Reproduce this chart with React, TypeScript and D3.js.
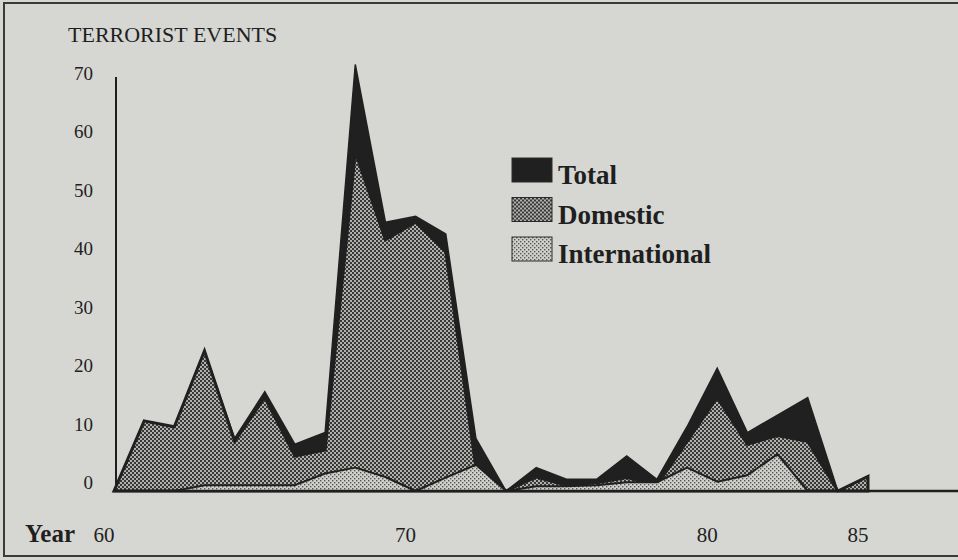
import * as d3 from 'd3';
import React from 'react';

const W = 958;
const H = 560;

// years 1960..1985
const years = d3.range(1960, 1986);
const totalEvents = [0, 12, 11, 24, 9, 17, 8, 10, 73, 46, 47, 44, 9, 0, 4, 2, 2, 6, 2, 11, 21, 10, 13, 16, 0, 2.5];
const domesticEvents = [0, 12, 11, 24, 8.5, 16, 6, 7, 58, 43, 46, 41, 4, 0, 2.4, 1, 1.4, 2.3, 1, 8.5, 16, 8, 9.5, 8.5, 0, 2.5];
const internationalEvents = [0, 0, 0, 1, 1, 1, 1, 3, 4, 2.4, 0, 2.3, 4.5, 0, 0.8, 0.8, 1, 1.5, 1.5, 4, 1.6, 2.7, 6.3, 0, 0, 0];

const yTicks = [0, 10, 20, 30, 40, 50, 60, 70];
const xTicks = [1960, 1970, 1980, 1985];
const xTickLabel = (yr: number) => String(yr - 1900);

const legendItems = [
  { label: 'Total', fill: '#202020' },
  { label: 'Domestic', fill: 'url(#domPattern)' },
  { label: 'International', fill: 'url(#intPattern)' },
];

const INK = '#1f1f1f';
const PAPER = '#d6d6d2';
const SERIF = '"Liberation Serif", "DejaVu Serif", serif';

export default function App() {
  const x = d3.scaleLinear().domain([1960, 1985]).range([114, 868]);
  const y = d3.scaleLinear().domain([0, 70]).range([491, 82]);

  const areaOf = (vals: number[]) =>
    d3
      .area<number>()
      .x((_, i) => x(years[i]))
      .y0(y(0))
      .y1(d => y(d))(vals) || '';

  return (
    <svg width={W} height={H} viewBox={`0 0 ${W} ${H}`} style={{ position: 'absolute', left: 0, top: 0 }}>
      <defs>
        <pattern id="domPattern" width={4} height={4} patternUnits="userSpaceOnUse">
          <rect width={4} height={4} fill="#b0b0ac" />
          <rect x={0} y={0} width={2} height={2} fill="#383838" />
          <rect x={2} y={2} width={2} height={2} fill="#383838" />
        </pattern>
        <pattern id="intPattern" width={4} height={4} patternUnits="userSpaceOnUse">
          <rect width={4} height={4} fill="#d0d0cc" />
          <rect x={0} y={0} width={1.4} height={1.4} fill="#555" />
          <rect x={2} y={2} width={1.4} height={1.4} fill="#555" />
        </pattern>
      </defs>

      <rect width={W} height={H} fill={PAPER} />
      <rect x={4} y={3} width={W + 20} height={553} fill="none" stroke="#3a3a3a" strokeWidth={2} />

      <text x={68} y={42} fontFamily={SERIF} fontSize={22} fill={INK}>
        TERRORIST EVENTS
      </text>

      {/* y axis */}
      <line x1={116} x2={116} y1={77} y2={y(0)} stroke={INK} strokeWidth={2} />
      {yTicks.map(t => (
        <text key={t} x={93} y={y(t) - 2} textAnchor="end" fontFamily={SERIF} fontSize={19} fill={INK}>
          {t}
        </text>
      ))}

      {/* areas, overlapping */}
      <path d={areaOf(totalEvents)} fill="#202020" stroke="#202020" strokeWidth={1.5} strokeLinejoin="miter" />
      <path d={areaOf(domesticEvents)} fill="url(#domPattern)" stroke="#202020" strokeWidth={3} strokeLinejoin="miter" />
      <path d={areaOf(internationalEvents)} fill="url(#intPattern)" stroke="#202020" strokeWidth={2} strokeLinejoin="round" />

      {/* x axis */}
      <line x1={113} x2={W} y1={y(0)} y2={y(0)} stroke={INK} strokeWidth={2.5} />
      <text x={25} y={542} fontFamily={SERIF} fontSize={25} fontWeight="bold" fill={INK}>
        Year
      </text>
      {xTicks.map(t => (
        <text key={t} x={x(t) - 10} y={542} textAnchor="middle" fontFamily={SERIF} fontSize={21} fill={INK}>
          {xTickLabel(t)}
        </text>
      ))}

      {/* legend */}
      {legendItems.map((item, i) => (
        <g key={item.label} transform={`translate(512, ${158 + i * 39.5})`}>
          <rect width={40} height={24} fill={item.fill} stroke="#2a2a2a" strokeWidth={1} />
          <text x={46} y={26} fontFamily={SERIF} fontSize={27} fontWeight="bold" fill={INK}>
            {item.label}
          </text>
        </g>
      ))}
    </svg>
  );
}
